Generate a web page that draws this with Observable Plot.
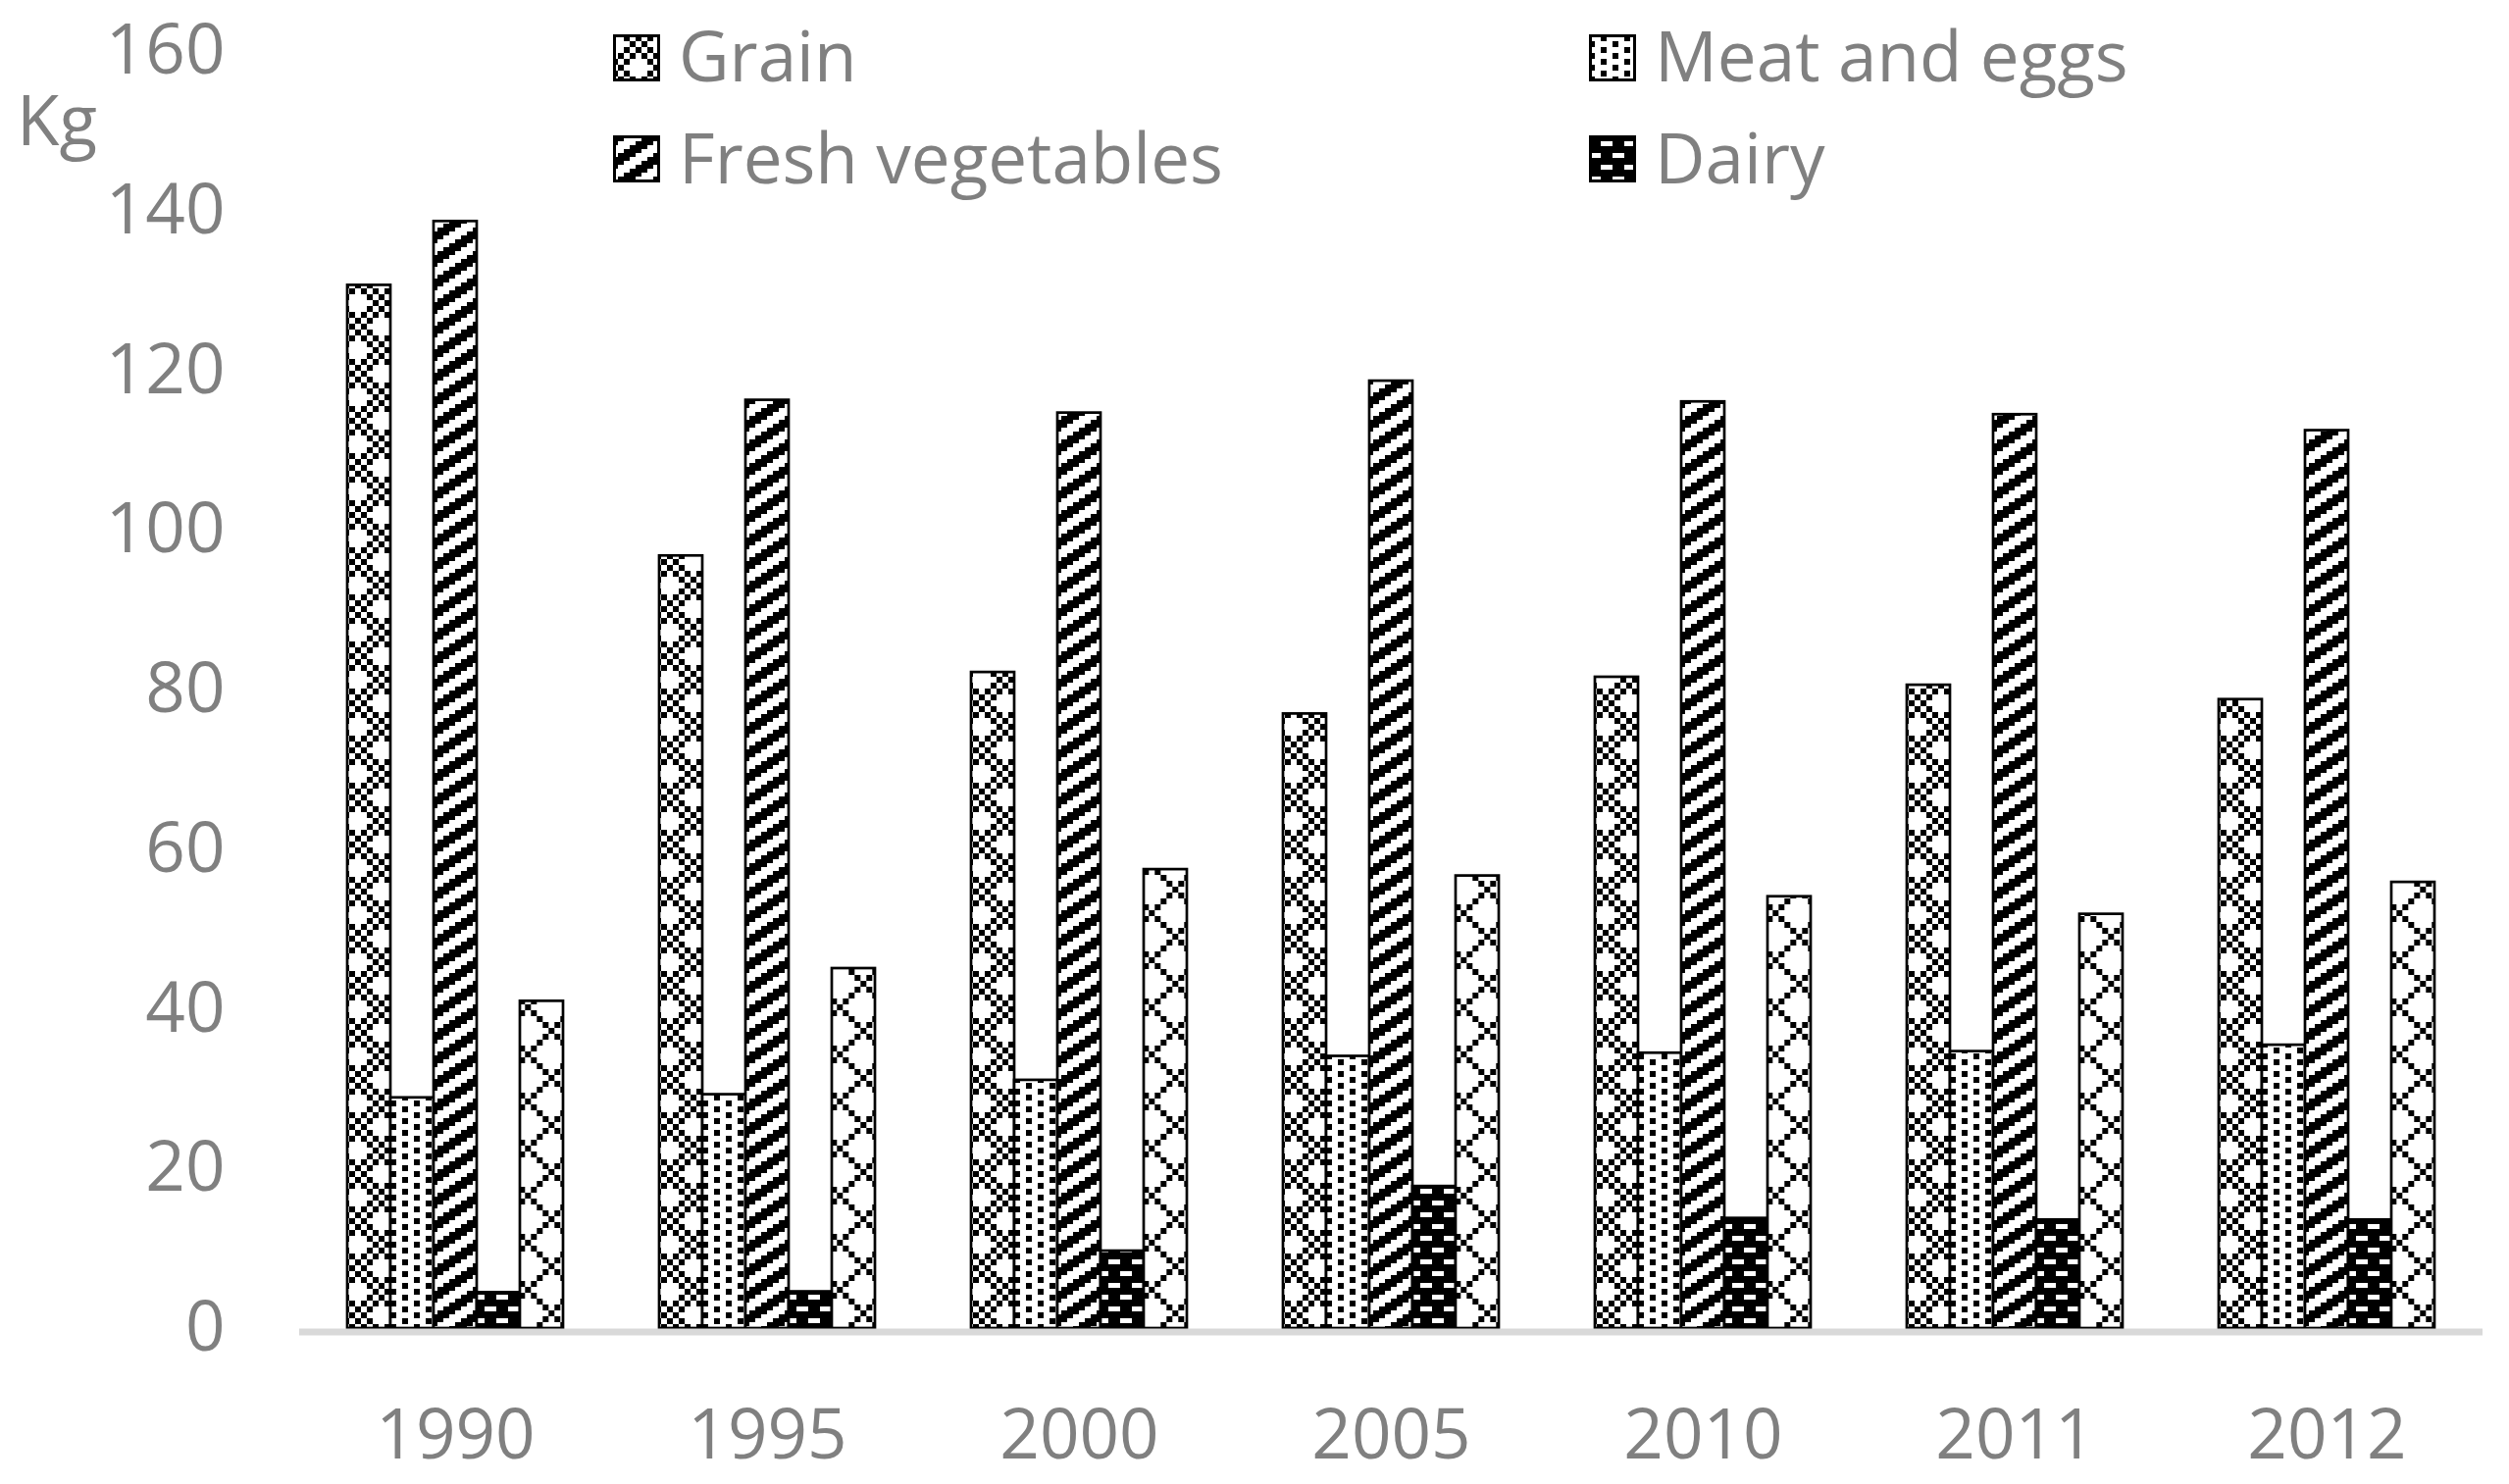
<!DOCTYPE html>
<html>
<head>
<meta charset="utf-8">
<script src="https://cdn.jsdelivr.net/npm/d3@7"></script>
<script src="https://cdn.jsdelivr.net/npm/@observablehq/plot@0.6"></script>
<style>
html, body { margin: 0; padding: 0; background: #ffffff; }
#wrap { position: relative; width: 2558px; height: 1513px; background: #ffffff; }
#wrap > svg { position: absolute; left: 0; top: 0; }
</style>
</head>
<body>
<div id="wrap"></div>
<script>
// ---- data ----
const years = ["1990", "1995", "2000", "2005", "2010", "2011", "2012"];
const seriesNames = ["Grain", "Meat and eggs", "Fresh vegetables", "Dairy", "Fruit"];
const legendNames = ["Grain", "Meat and eggs", "Fresh vegetables", "Dairy"];
const grain = [130.7, 96.8, 82.2, 77.0, 81.6, 80.6, 78.8];
const meatEggs = [28.9, 29.3, 31.1, 34.1, 34.5, 34.7, 35.5];
const freshVegetables = [138.7, 116.3, 114.7, 118.7, 116.1, 114.5, 112.5];
const dairy = [4.5, 4.6, 9.7, 17.8, 13.8, 13.6, 13.6];
const fruit = [41.0, 45.1, 57.5, 56.7, 54.1, 51.9, 55.9];
const yTicks = [0, 20, 40, 60, 80, 100, 120, 140, 160];
const yUnit = "Kg";

const seriesValues = [grain, meatEggs, freshVegetables, dairy, fruit];
const table = years.flatMap((year, i) =>
  seriesNames.map((series, k) => ({year, series, value: seriesValues[k][i]})));

const wrap = d3.select("#wrap");
const TEXT = "#808080";
const FONT = "'Open Sans', sans-serif";

// ---- fill patterns ----
const defsSvg = wrap.append("svg").attr("width", 0).attr("height", 0);
const defs = defsSvg.append("defs");
function pattern(id, w, h, bg, fg, cells, ox = 0, oy = 0) {
  const p = defs.append("pattern").attr("id", id).attr("patternUnits", "userSpaceOnUse")
    .attr("width", w).attr("height", h).attr("x", ox).attr("y", oy);
  p.append("rect").attr("width", w).attr("height", h).attr("fill", bg);
  for (const [x, y, cw, ch] of cells)
    p.append("rect").attr("x", x).attr("y", y).attr("width", cw).attr("height", ch)
      .attr("fill", fg).attr("shape-rendering", "crispEdges");
}
const C = 6;
// grain: checkerboard with staggered white crosses
{
  const holes = new Set(["2,4", "4,4", "3,3", "3,5", "6,0", "0,0", "7,7", "7,1"]);
  const cells = [];
  for (let r = 0; r < 8; r++) for (let c = 0; c < 8; c++)
    if ((r + c) % 2 === 0 && !holes.has(r + "," + c)) cells.push([c * C - 0.3, r * C - 0.3, C + 0.6, C + 0.6]);
  pattern("pGrain", 48, 48, "#fff", "#000", cells);
}
// meat and eggs: staggered dots
pattern("pMeat", 24, 12, "#fff", "#000", [[0, 0, 5.5, 5.5], [12, 6, 5.5, 5.5]]);
// fresh vegetables: wide upward diagonal staircase
{
  const cells = [];
  for (let i = 0; i < 6; i++) for (let j = 0; j < 6; j++)
    if ((i + j) % 6 < 3) cells.push([i * 6, j * 4, 6, 4]);
  pattern("pVeg", 36, 24, "#fff", "#000", cells);
}
// dairy: black with white dashes
pattern("pDairy", 24, 24, "#000", "#fff", [[0, 0, 12, 5], [12, 12, 12, 5]]);
// fruit: diamond lattice
{
  const cells = [];
  for (let r = 0; r < 8; r++) {
    cells.push([r * C, r * C, C, C]);
    const c2 = (8 - r) % 8;
    if (c2 !== r) cells.push([c2 * C, r * C, C, C]);
  }
  pattern("pFruit", 48, 48, "#fff", "#000", cells, 29.3, 40);
}
const patternUrls = ["url(#pGrain)", "url(#pMeat)", "url(#pVeg)", "url(#pDairy)", "url(#pFruit)"];

// ---- chart ----
const chart = Plot.plot({
  width: 2558,
  height: 1513,
  marginTop: 52,
  marginBottom: 159,
  marginLeft: 303,
  marginRight: 26,
  style: {background: "transparent", fontFamily: FONT, fontSize: "71px", color: TEXT, overflow: "visible"},
  fx: {domain: years, padding: 0, axis: "bottom", tickSize: 0, tickPadding: 82, label: null},
  x: {domain: seriesNames, paddingInner: 0, paddingOuter: 1.07, axis: null, label: null},
  y: {domain: [0, 160], ticks: yTicks, tickSize: 0, tickPadding: 76, label: null},
  color: {domain: seriesNames, range: patternUrls},
  marks: [
    Plot.barY(table, {fx: "year", x: "series", y: "value", fill: "series", stroke: "#000", strokeWidth: 2.7}),
    Plot.ruleY([0], {stroke: "#d9d9d9", strokeWidth: 7, dy: 3.5})
  ]
});
wrap.node().appendChild(chart);

// ---- legend + unit label overlay ----
const ov = wrap.append("svg").attr("width", 2558).attr("height", 1513)
  .style("pointer-events", "none").style("font-family", FONT);
ov.append("text").attr("x", 17).attr("y", 148).attr("font-size", 71).attr("fill", TEXT).text(yUnit);
const legendPos = [
  {x: 625, y: 35, tx: 692, ty: 83},
  {x: 1620, y: 35, tx: 1687, ty: 83},
  {x: 625, y: 138, tx: 692, ty: 187},
  {x: 1620, y: 138, tx: 1687, ty: 187}
];
legendNames.forEach((name, i) => {
  const p = legendPos[i];
  const k = seriesNames.indexOf(name);
  ov.append("rect").attr("x", p.x + 1.5).attr("y", p.y + 1.5).attr("width", 45).attr("height", 45)
    .attr("fill", patternUrls[k]).attr("stroke", "#000").attr("stroke-width", 3);
  ov.append("text").attr("x", p.tx).attr("y", p.ty).attr("font-size", 71).attr("fill", TEXT).text(name);
});
</script>
</body>
</html>
